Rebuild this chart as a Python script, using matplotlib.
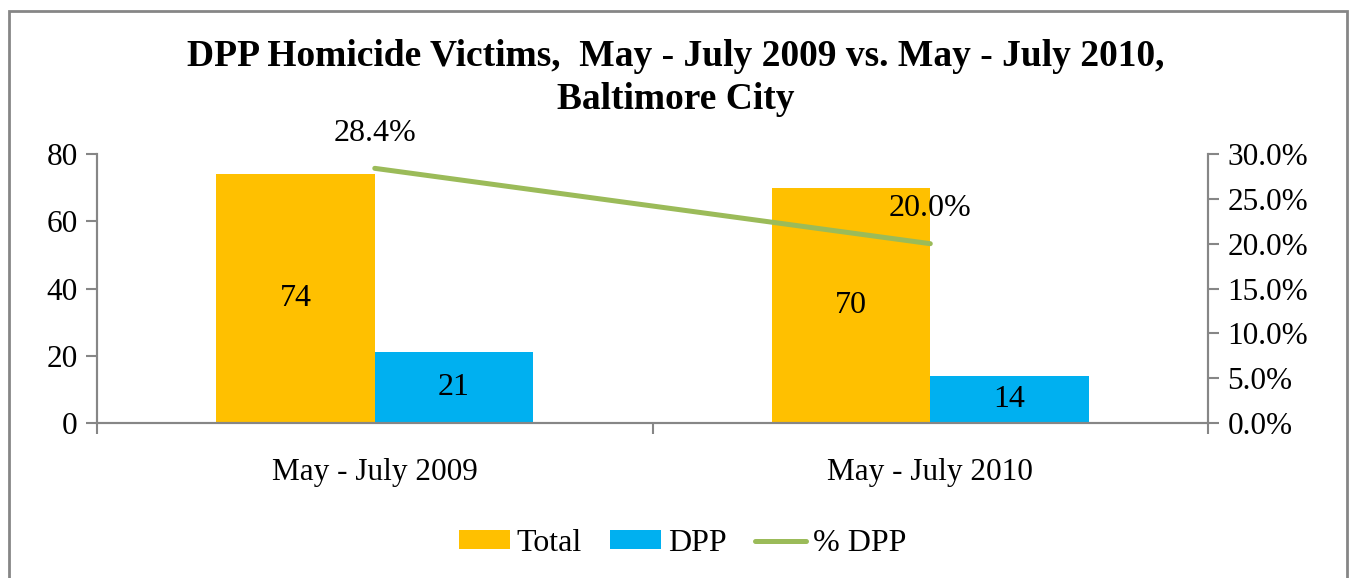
import matplotlib
matplotlib.use("Agg")
import matplotlib.pyplot as plt
import numpy
from matplotlib.patches import Rectangle

categories = ["May - July 2009", "May - July 2010"]
total_values = [74, 70]
dpp_values = [21, 14]
dpp_percent = [28.4, 20.0]

plt.rcParams["font.family"] = ["Liberation Serif", "DejaVu Serif"]

figure = plt.figure(figsize=(13.51, 5.78), dpi=100)
axes = figure.add_axes([0.0718, 0.268, 0.8224, 0.4656])
right_axes = axes.twinx()

grey = "#868686"
positions = numpy.arange(len(categories))
bar_width = 0.285

total_bars = axes.bar(positions - bar_width / 2, total_values, bar_width,
                      color="#FFC000", label="Total")
dpp_bars = axes.bar(positions + bar_width / 2, dpp_values, bar_width,
                    color="#00B0F0", label="DPP")
for bar, value in zip(list(total_bars) + list(dpp_bars), total_values + dpp_values):
    axes.text(bar.get_x() + bar.get_width() / 2, value / 2, str(value),
              ha="center", va="center", fontsize=23)

line, = right_axes.plot(positions, dpp_percent, color="#9BBB59", linewidth=3.6,
                        solid_capstyle="round", label="% DPP")
for x, value in zip(positions, dpp_percent):
    right_axes.annotate("%.1f%%" % value, (x, value), xytext=(0, 25),
                        textcoords="offset points", ha="center", va="center",
                        fontsize=23)

axes.set_xlim(-0.5, len(categories) - 0.5)
axes.set_ylim(0, 80)
axes.set_yticks([0, 20, 40, 60, 80])
right_axes.set_ylim(0, 30)
right_axes.set_yticks([0, 5, 10, 15, 20, 25, 30])
right_axes.set_yticklabels(["%.1f%%" % t for t in [0, 5, 10, 15, 20, 25, 30]])

axes.set_xticks(positions)
axes.set_xticklabels(categories)
axes.set_xticks(numpy.arange(-0.5, len(categories)), minor=True)
axes.tick_params(axis="x", which="major", length=0, labelsize=22.5, pad=25)
axes.tick_params(axis="x", which="minor", length=8, width=1.5, color=grey)
axes.tick_params(axis="y", length=8, width=1.5, color=grey, labelsize=22.5, pad=6)
right_axes.tick_params(axis="y", length=8, width=1.5, color=grey, labelsize=22.5, pad=6)

for ax in (axes, right_axes):
    ax.spines["top"].set_visible(False)
    for name in ("left", "right", "bottom"):
        ax.spines[name].set_color(grey)
        ax.spines[name].set_linewidth(1.5)

figure.text(0.5, 0.902, "DPP Homicide Victims,  May - July 2009 vs. May - July 2010,",
            ha="center", va="center", fontsize=27, fontweight="bold")
figure.text(0.5, 0.828, "Baltimore City", ha="center", va="center",
            fontsize=27, fontweight="bold")

figure.legend(handles=[total_bars, dpp_bars, line], loc="center",
              bbox_to_anchor=(0.505, 0.06), ncol=3, frameon=False, fontsize=23,
              handlelength=1.6, handleheight=0.5, handletextpad=0.2,
              columnspacing=0.9)

figure.patches.append(Rectangle((9 / 1351, -0.05), (1347 - 9) / 1351, 1.05 - 11 / 578,
                                transform=figure.transFigure, fill=False,
                                edgecolor=grey, linewidth=2, figure=figure))

figure.savefig("out.png", dpi=100)
